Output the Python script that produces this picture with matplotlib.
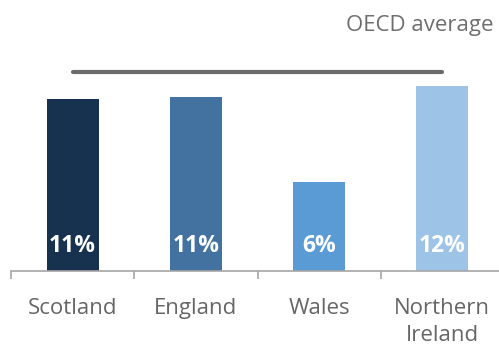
import matplotlib
matplotlib.use("Agg")
import matplotlib.pyplot as plt

categories = ["Scotland", "England", "Wales", "Northern\nIreland"]
values = [11.2, 11.3, 5.8, 12.0]
labels = ["11%", "11%", "6%", "12%"]
colors = ["#17324f", "#4472a0", "#5b9bd5", "#9dc3e6"]
oecd_average = 12.9
oecd_label = "OECD average"

plt.rcParams['font.family'] = ['Open Sans', 'DejaVu Sans']

fig = plt.figure(figsize=(4.99, 3.47), dpi=100)
W, H = 499, 347
left, right = 11, 504
base = 271
ax = fig.add_axes([left / W, (H - base) / H, (right - left) / W, base / H])
ax.set_xlim(-0.5, 3.5)
ax.set_ylim(0, base / 15.4)

x = range(len(categories))
ax.bar(x, values, width=0.42, color=colors)
for xi, v, lab in zip(x, values, labels):
    ax.text(xi, 1.65, lab, ha="center", va="center", color="white",
            fontsize=16.5, fontweight="bold")

ax.plot([0, 3], [oecd_average, oecd_average], color="#6b6b6b", lw=3,
        solid_capstyle="round")
fig.text(493 / W, 1 - 25 / H, oecd_label, ha="right", va="center",
         fontsize=16, color="#6e6e6e")

for s in ["top", "right", "left"]:
    ax.spines[s].set_visible(False)
ax.spines["bottom"].set_color("#a6a6a6")
ax.spines["bottom"].set_linewidth(1.2)
ax.set_yticks([])
ax.set_xticks([-0.5, 0.5, 1.5, 2.5, 3.5])
ax.set_xticklabels([])
ax.tick_params(axis="x", length=6, color="#a6a6a6", width=1.2)
for xi, c in zip(x, categories):
    ax.text(xi, -27 / 15.4, c, ha="center", va="top", fontsize=16,
            color="#666666", linespacing=1.4)

fig.savefig("out.png", dpi=100)
